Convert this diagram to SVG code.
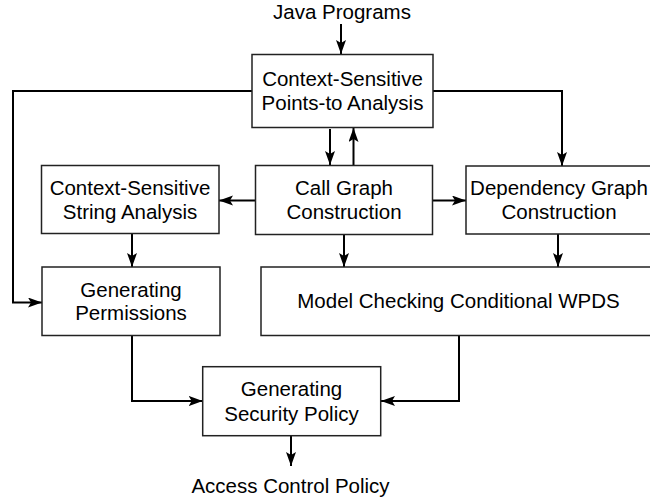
<svg xmlns="http://www.w3.org/2000/svg" width="650" height="504" viewBox="0 0 650 504">
<style>
.box{fill:#fff;stroke:#222;stroke-width:1.5}
.t{font-family:"Liberation Sans",Arial,sans-serif;font-size:20.5px;fill:#000;text-anchor:middle}
.c{fill:none;stroke:#000;stroke-width:2;marker-end:url(#ah)}
</style>
<defs>
<marker id="ah" markerUnits="userSpaceOnUse" markerWidth="15" markerHeight="11" refX="14" refY="5" orient="auto">
<path d="M0,0 L14,5 L0,10 L3,5 z" fill="#000"/>
</marker>
</defs>
<rect width="650" height="504" fill="#fff"/>
<g id="connectors">
<path class="c" d="M341,24 V54"/>
<path class="c" d="M252,91 H13 V302.5 H42"/>
<path class="c" d="M433,91 H562 V166"/>
<path class="c" d="M330,129 V165"/>
<path class="c" d="M353.5,165 V128"/>
<path class="c" d="M255.5,200.5 H219"/>
<path class="c" d="M432.5,200.5 H466"/>
<path class="c" d="M132,233.5 V267"/>
<path class="c" d="M344,234.5 V267"/>
<path class="c" d="M558,234 V267"/>
<path class="c" d="M132,335.5 V401 H202.7"/>
<path class="c" d="M459,335.5 V401 H381"/>
<path class="c" d="M291,436 V466"/>
</g>
<g id="java-programs"><text class="t" x="342" y="18.5">Java Programs</text></g>
<g id="points-to">
<rect class="box" x="252" y="54.5" width="181" height="73"/>
<text class="t" x="342.5" y="86">Context-Sensitive</text>
<text class="t" x="342.5" y="110">Points-to Analysis</text>
</g>
<g id="call-graph">
<rect class="box" x="255.5" y="165.5" width="177" height="69"/>
<text class="t" x="344" y="195">Call Graph</text>
<text class="t" x="344" y="219">Construction</text>
</g>
<g id="string-analysis">
<rect class="box" x="41.5" y="165.5" width="177.5" height="68"/>
<text class="t" x="130" y="195">Context-Sensitive</text>
<text class="t" x="130" y="219">String Analysis</text>
</g>
<g id="dependency-graph">
<rect class="box" x="466" y="166" width="190" height="68"/>
<text class="t" x="559" y="195">Dependency Graph</text>
<text class="t" x="559" y="219">Construction</text>
</g>
<g id="permissions">
<rect class="box" x="42" y="267" width="178" height="68.5"/>
<text class="t" x="131" y="297">Generating</text>
<text class="t" x="131" y="320">Permissions</text>
</g>
<g id="model-checking">
<rect class="box" x="261" y="267" width="395" height="68.5"/>
<text class="t" x="458.5" y="308">Model Checking Conditional WPDS</text>
</g>
<g id="security-policy">
<rect class="box" x="202.7" y="366.7" width="178" height="69"/>
<text class="t" x="291.5" y="396">Generating</text>
<text class="t" x="291.5" y="420.5">Security Policy</text>
</g>
<g id="access-control"><text class="t" x="290.5" y="492.5">Access Control Policy</text></g>
</svg>
